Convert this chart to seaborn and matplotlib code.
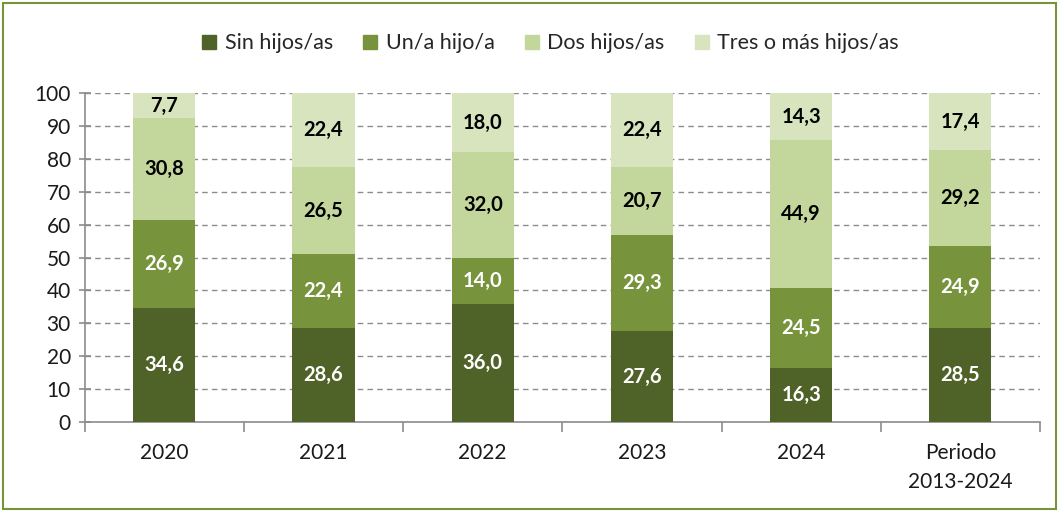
import matplotlib
matplotlib.use("Agg")
import matplotlib.pyplot as plt
import matplotlib.patches as mpatches
import seaborn as sns
import pandas as pd
import numpy as np

categorias = ["2020", "2021", "2022", "2023", "2024", "Periodo\n2013-2024"]
series = ["Sin hijos/as", "Un/a hijo/a", "Dos hijos/as", "Tres o más hijos/as"]
sin_hijos = [34.6, 28.6, 36.0, 27.6, 16.3, 28.5]
un_hijo = [26.9, 22.4, 14.0, 29.3, 24.5, 24.9]
dos_hijos = [30.8, 26.5, 32.0, 20.7, 44.9, 29.2]
tres_hijos = [7.7, 22.4, 18.0, 22.4, 14.3, 17.4]
colores = ["#4F6228", "#77933C", "#C3D69B", "#D7E4BD"]
color_texto = ["white", "white", "black", "black"]

sns.set_theme(style="white")
plt.rcParams["font.family"] = ["Lato", "DejaVu Sans"]

valores = [sin_hijos, un_hijo, dos_hijos, tres_hijos]
df = pd.DataFrame({"cat": categorias})
acum = np.zeros(len(categorias))
bases = []
for s, v in zip(series, valores):
    bases.append(acum.copy())
    acum = acum + np.array(v)
    df[s] = acum

fig = plt.figure(figsize=(10.59, 5.11), dpi=100)
ax = fig.add_axes([0.080, 0.174, 0.902, 0.644])

# draw from the top layer down so each stack shows
for i in range(len(series) - 1, -1, -1):
    sns.barplot(data=df, x="cat", y=series[i], color=colores[i], width=0.39,
                saturation=1, ax=ax, zorder=3, linewidth=0, legend=False)

for i, v in enumerate(valores):
    for j, val in enumerate(v):
        ax.text(j, bases[i][j] + val / 2, f"{val:.1f}".replace(".", ","),
                ha="center", va="center", fontsize=14.5, fontweight="bold",
                color=color_texto[i], zorder=4)

ax.set_ylim(0, 100)
ax.set_xlim(-0.5, len(categorias) - 0.5)
ax.set_yticks(range(0, 101, 10))
ax.set_xlabel("")
ax.set_ylabel("")
ax.yaxis.grid(True, linestyle=(0, (4, 3)), color="#8C8C8C", linewidth=1, zorder=0)
for side in ["top", "right"]:
    ax.spines[side].set_visible(False)
for side in ["left", "bottom"]:
    ax.spines[side].set_color("#8C8C8C")
    ax.spines[side].set_linewidth(1.2)

ax.tick_params(axis="y", which="major", direction="inout", length=8, width=1.2,
               color="#8C8C8C", labelsize=15, pad=6, left=True)
ax.tick_params(axis="x", which="major", length=0, labelsize=15, pad=15)
ax.set_xticks(np.arange(-0.5, len(categorias)), minor=True)
ax.tick_params(axis="x", which="minor", direction="out", length=7, width=1.2,
               color="#8C8C8C", bottom=True)
for lab in ax.get_yticklabels() + ax.get_xticklabels():
    lab.set_color("#1a1a1a")
for lab in ax.get_xticklabels():
    lab.set_linespacing(1.55)

handles = [mpatches.Patch(color=c, label=s) for c, s in zip(colores, series)]
fig.legend(handles=handles, loc="center", bbox_to_anchor=(0.52, 0.915), ncol=4,
           frameon=False, fontsize=15.5, handlelength=0.65, handleheight=0.65,
           handletextpad=0.4, columnspacing=1.4)

fig.patches.append(mpatches.Rectangle((0.003, 0.004), 0.994, 0.99, transform=fig.transFigure,
                                      fill=False, edgecolor="#77933C", linewidth=1.5))

fig.savefig("out.png", dpi=100)
